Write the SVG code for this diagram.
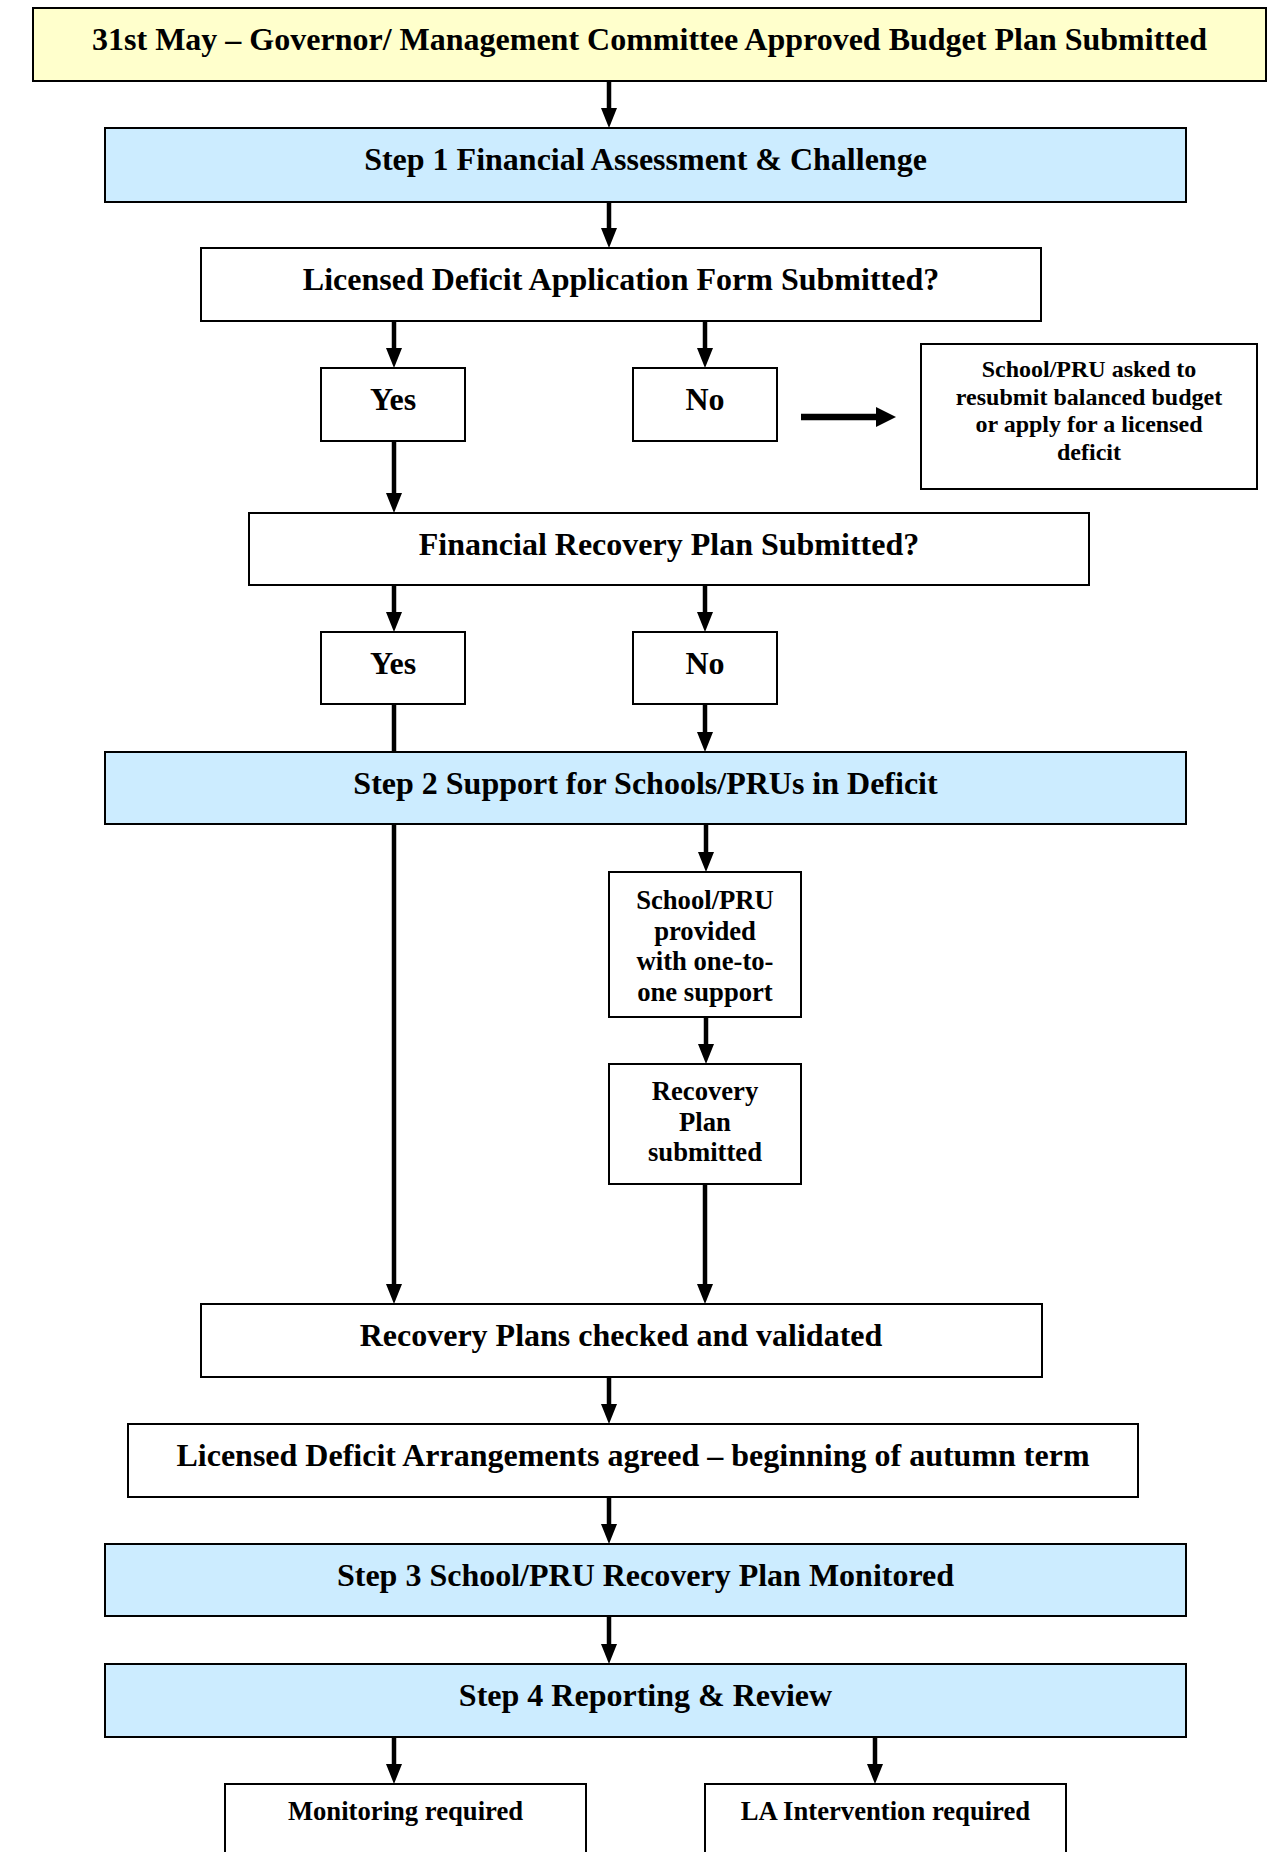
<svg xmlns="http://www.w3.org/2000/svg" width="1279" height="1852" viewBox="0 0 1279 1852">
<style>
  .box { fill: #ffffff; stroke: #000000; stroke-width: 2; }
  .yellow { fill: #FFFFCC; }
  .blue { fill: #CCECFF; }
  text { font-family: "Liberation Serif", "Times New Roman", serif; font-weight: bold; fill: #000; text-anchor: middle; }
  .t32 { font-size: 32px; }
  .t27 { font-size: 26.67px; }
  .t24 { font-size: 24px; }
  .conn { stroke: #000; stroke-width: 4.5; fill: none; }
  .arr { marker-end: url(#head); }
  .thick { stroke-width: 6.5; marker-end: url(#headBig); }
</style>
<defs>
  <marker id="head" markerUnits="userSpaceOnUse" viewBox="0 0 20 16" refX="10" refY="8" markerWidth="20" markerHeight="16" orient="auto">
    <path d="M0,0 L20,8 L0,16 z" fill="#000"/>
  </marker>
  <marker id="headBig" markerUnits="userSpaceOnUse" viewBox="0 0 20 20" refX="10" refY="10" markerWidth="20" markerHeight="20" orient="auto">
    <path d="M0,0 L20,10 L0,20 z" fill="#000"/>
  </marker>
</defs>
<rect width="1279" height="1852" fill="#ffffff"/>

<g id="connectors">
  <line class="conn arr" x1="609" y1="81" x2="609" y2="118"/>
  <line class="conn arr" x1="609" y1="202" x2="609" y2="238"/>
  <line class="conn arr" x1="394" y1="321" x2="394" y2="358"/>
  <line class="conn arr" x1="705" y1="321" x2="705" y2="358"/>
  <line class="conn thick" x1="801" y1="417" x2="886" y2="417"/>
  <line class="conn arr" x1="394" y1="441" x2="394" y2="503"/>
  <line class="conn arr" x1="394" y1="585" x2="394" y2="622"/>
  <line class="conn arr" x1="705" y1="585" x2="705" y2="622"/>
  <line class="conn" x1="394" y1="704" x2="394" y2="752"/>
  <line class="conn arr" x1="705" y1="704" x2="705" y2="742"/>
  <line class="conn arr" x1="394" y1="824" x2="394" y2="1294"/>
  <line class="conn arr" x1="706" y1="824" x2="706" y2="862"/>
  <line class="conn arr" x1="706" y1="1017" x2="706" y2="1054"/>
  <line class="conn arr" x1="705" y1="1184" x2="705" y2="1294"/>
  <line class="conn arr" x1="609" y1="1377" x2="609" y2="1414"/>
  <line class="conn arr" x1="609" y1="1497" x2="609" y2="1534"/>
  <line class="conn arr" x1="609" y1="1616" x2="609" y2="1654"/>
  <line class="conn arr" x1="394" y1="1737" x2="394" y2="1774"/>
  <line class="conn arr" x1="875" y1="1737" x2="875" y2="1774"/>
</g>

<g id="n-top">
  <rect class="box yellow" x="33" y="8" width="1233" height="73"/>
  <text class="t32" x="649.5" y="50">31st May – Governor/ Management Committee Approved Budget Plan Submitted</text>
</g>
<g id="n-step1">
  <rect class="box blue" x="105" y="128" width="1081" height="74"/>
  <text class="t32" x="645.5" y="170">Step 1 Financial Assessment &amp; Challenge</text>
</g>
<g id="n-ldaf">
  <rect class="box" x="201" y="248" width="840" height="73"/>
  <text class="t32" x="621" y="290">Licensed Deficit Application Form Submitted?</text>
</g>
<g id="n-yes1">
  <rect class="box" x="321" y="368" width="144" height="73"/>
  <text class="t32" x="393" y="410">Yes</text>
</g>
<g id="n-no1">
  <rect class="box" x="633" y="368" width="144" height="73"/>
  <text class="t32" x="705" y="410">No</text>
</g>
<g id="n-resubmit">
  <rect class="box" x="921" y="344" width="336" height="145"/>
  <text class="t24" x="1089" y="377">School/PRU asked to</text>
  <text class="t24" x="1089" y="404.5">resubmit  balanced budget</text>
  <text class="t24" x="1089" y="432">or apply for a licensed</text>
  <text class="t24" x="1089" y="459.5">deficit</text>
</g>
<g id="n-frp">
  <rect class="box" x="249" y="513" width="840" height="72"/>
  <text class="t32" x="669" y="555">Financial Recovery Plan Submitted?</text>
</g>
<g id="n-yes2">
  <rect class="box" x="321" y="632" width="144" height="72"/>
  <text class="t32" x="393" y="674">Yes</text>
</g>
<g id="n-no2">
  <rect class="box" x="633" y="632" width="144" height="72"/>
  <text class="t32" x="705" y="674">No</text>
</g>
<g id="n-step2">
  <rect class="box blue" x="105" y="752" width="1081" height="72"/>
  <text class="t32" x="645.5" y="794">Step 2 Support for Schools/PRUs in Deficit</text>
</g>
<g id="n-onetoone">
  <rect class="box" x="609" y="872" width="192" height="145"/>
  <text class="t27" x="705" y="909">School/PRU</text>
  <text class="t27" x="705" y="939.5">provided</text>
  <text class="t27" x="705" y="970">with one-to-</text>
  <text class="t27" x="705" y="1000.5">one support</text>
</g>
<g id="n-recplan">
  <rect class="box" x="609" y="1064" width="192" height="120"/>
  <text class="t27" x="705" y="1100">Recovery</text>
  <text class="t27" x="705" y="1130.5">Plan</text>
  <text class="t27" x="705" y="1161">submitted</text>
</g>
<g id="n-checked">
  <rect class="box" x="201" y="1304" width="841" height="73"/>
  <text class="t32" x="621" y="1346">Recovery Plans checked and validated</text>
</g>
<g id="n-lda">
  <rect class="box" x="128" y="1424" width="1010" height="73"/>
  <text class="t32" x="633" y="1466">Licensed Deficit Arrangements agreed – beginning of autumn term</text>
</g>
<g id="n-step3">
  <rect class="box blue" x="105" y="1544" width="1081" height="72"/>
  <text class="t32" x="645.5" y="1586">Step 3 School/PRU Recovery Plan Monitored</text>
</g>
<g id="n-step4">
  <rect class="box blue" x="105" y="1664" width="1081" height="73"/>
  <text class="t32" x="645.5" y="1706">Step 4 Reporting &amp; Review</text>
</g>
<g id="n-monitor">
  <rect class="box" x="225" y="1784" width="361" height="120"/>
  <text class="t27" x="405.5" y="1820">Monitoring required</text>
</g>
<g id="n-la">
  <rect class="box" x="705" y="1784" width="361" height="120"/>
  <text class="t27" x="885.5" y="1820">LA Intervention required</text>
</g>
</svg>
